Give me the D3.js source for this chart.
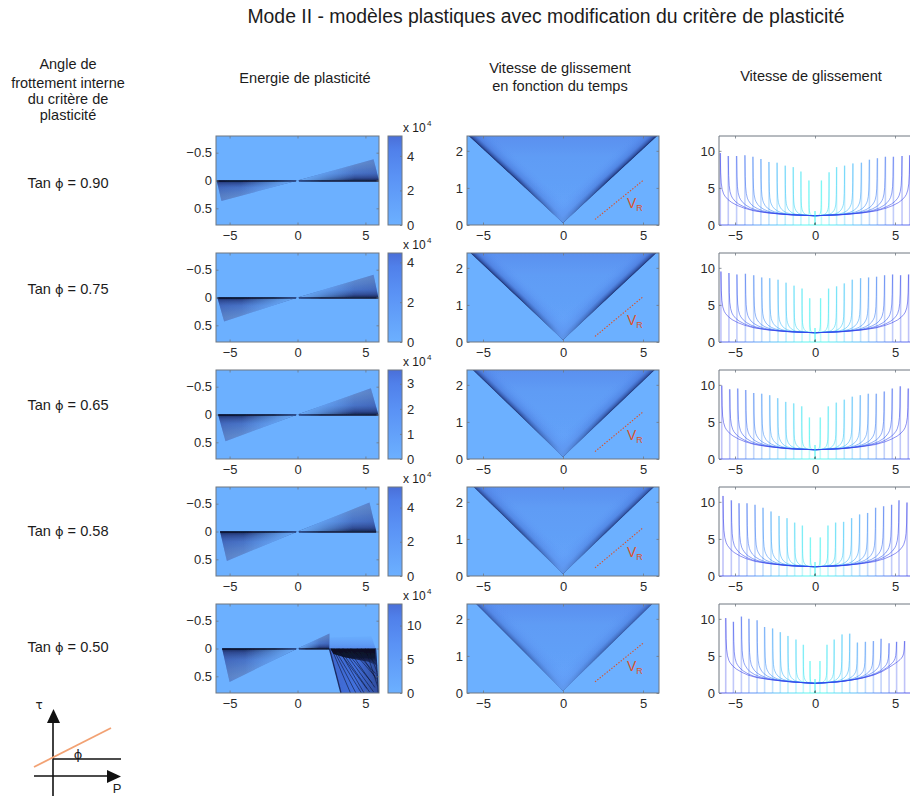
<!DOCTYPE html>
<html lang="fr"><head><meta charset="utf-8">
<script src="https://cdn.jsdelivr.net/npm/d3@7/dist/d3.min.js"></script>
<style>html,body{margin:0;padding:0;background:#fff;overflow:hidden}svg{display:block}
text{font-family:"Liberation Sans",Arial,sans-serif;fill:#1c1c1c}
.axis text{font-size:13px;fill:#2a2a2a;font-family:"Liberation Sans",Arial,sans-serif}
.axis line{stroke:#6f7780;stroke-width:.8}.axis path{stroke:none}</style></head><body>
<svg id="chart" width="910" height="797"></svg>
<script>
// ---------- text ----------
const chartTitle = "Mode II - modèles plastiques avec modification du critère de plasticité";
const leftHeader = ["Angle de","frottement interne","du critère de","plasticité"];
const tanPhi = ["0.90","0.75","0.65","0.58","0.50"];
// ---------- shared axis ranges ----------
const xRange = [-6,6], xTicks = [-5,0,5];
const energyY = [-0.8,0.8], energyYTicks = [-0.5,0,0.5];
const timeY = [0,2.4], timeYTicks = [0,1,2];
const rateY = [0,12], rateYTicks = [0,5,10];
// ---------- colour bars (units of 10^4) ----------
const barMax = [5.15,4.47,3.55,5.2,13.2];
const barTicks = [[0,2,4],[0,2,4],[0,1,2,3],[0,2,4],[0,5,10]];
// ---------- plastic energy wedges: [axis end x, outer end x, outer end y] ----------
const wedgeLeft  = [[-5.95,-5.6,0.37],[-5.9,-5.4,0.43],[-5.85,-5.3,0.48],[-5.7,-5.2,0.53],[-5.55,-5.0,0.6]];
const wedgeRight = [[6.0,5.6,-0.38],[5.95,5.6,-0.41],[5.95,5.4,-0.47],[5.8,5.3,-0.52],[2.35,2.35,-0.27]];
// last row: broken zone on the right
const brokenZone = [[2.35,0],[5.75,0],[5.95,0.8],[3.2,0.8]];
const brokenHaze = [[2.35,0],[2.4,-0.2],[5.45,-0.22],[5.75,0]];
const brokenCore = [[2.4,0],[5.75,0],[5.8,0.3],[5.2,0.24],[4.4,0.2],[3.5,0.16],[2.65,0.1]];
const brokenStreaks = [[2.5,0,3.9,0.8],[2.6,0,4.3,0.8],[2.7,0,4.7,0.8],[2.9,0,5.1,0.72],[3.0,0,4.9,0.8],[3.1,0,5.3,0.78],[3.3,0,5.6,0.78],[3.4,0,5.5,0.62],[3.7,0,5.7,0.7],[3.9,0,5.7,0.5],[4.0,0,5.75,0.45],[4.4,0,5.8,0.55],[4.7,0,5.85,0.3],[5.0,0,5.9,0.68],[5.2,0,5.85,0.42]];
// ---------- slip velocity vs time: edge of the V at the top of the plot ----------
const vLeftTop  = [-5.9,-5.8,-5.65,-5.6,-5.45];
const vRightTop = [5.9,5.85,5.75,5.7,5.6];
const vEdgeStrength = [1,0.95,0.9,0.85,0.6];
const vrStart = [2,0.15,2,0.15,2,0.2,2,0.22,2,0.3];
const vrEnd   = [5,1.2,5,1.22,5,1.27,5,1.3,5,1.34];
// ---------- slip velocity snapshots ----------
const rupLeft = [
 [-0.38,-0.88,-1.36,-1.86,-2.37,-2.88,-3.38,-3.88,-4.38,-4.9,-5.42,-5.92],
 [-0.33,-0.81,-1.31,-1.81,-2.31,-2.83,-3.33,-3.83,-4.35,-4.88,-5.38,-5.88],
 [-0.35,-0.83,-1.33,-1.83,-2.33,-2.83,-3.33,-3.83,-4.33,-4.83,-5.33,-5.83],
 [-0.29,-0.79,-1.27,-1.75,-2.25,-2.75,-3.25,-3.75,-4.25,-4.75,-5.23,-5.75],
 [-0.31,-0.73,-1.19,-1.69,-2.17,-2.65,-3.15,-3.62,-4.13,-4.6,-5.1,-5.58]];
const rupRight = [
 [0.4,0.88,1.35,1.85,2.37,2.9,3.4,3.9,4.4,4.9,5.44,5.92],
 [0.35,0.85,1.35,1.83,2.33,2.85,3.35,3.85,4.35,4.85,5.35,5.85],
 [0.33,0.83,1.33,1.83,2.33,2.83,3.33,3.83,4.33,4.83,5.33,5.83],
 [0.33,0.81,1.29,1.79,2.29,2.79,3.29,3.79,4.29,4.79,5.25,5.75],
 [0.31,0.75,1.2,1.69,2.17,2.65,3.15,3.65,4.13,4.63,5.1,5.6]];
const peakLeft = [
 [6.0,7.2,7.8,8.0,8.4,8.5,8.9,9.2,9.4,9.3,9.3,9.7],
 [5.9,7.2,7.6,8.0,8.4,8.6,8.7,9.0,9.2,9.1,9.3,9.5],
 [5.6,7.1,7.5,7.7,8.2,8.6,8.8,8.9,9.3,9.5,9.4,9.9],
 [5.2,6.8,7.2,7.8,8.1,8.7,9.2,9.6,9.8,9.8,10.2,10.8],
 [4.3,6.5,7.2,7.7,8.2,8.7,8.9,9.8,10.0,10.3,9.6,10.1]];
const peakRight = [
 [6.0,7.1,7.8,8.0,8.3,8.4,8.8,9.0,9.2,9.2,9.3,9.4],
 [5.9,7.2,7.5,7.9,8.4,8.6,8.7,8.8,9.0,9.1,9.0,9.1],
 [5.6,7.1,7.6,8.0,8.4,8.6,8.8,8.8,9.1,9.5,9.8,9.5],
 [5.2,6.8,7.2,7.3,7.8,8.3,8.5,9.2,9.4,9.6,10.2,9.9],
 [4.3,6.5,7.2,7.9,8.0,6.8,6.9,7.0,7.3,6.7,6.9,7.0]];
// floor of the curves against |x| = 0,1,...,6
const floorX = [0,1,2,3,4,5,6];
const floorLeft = [
 [1.25,1.3,1.4,1.55,1.8,2.2,2.7],[1.25,1.3,1.4,1.55,1.8,2.2,2.7],[1.25,1.3,1.4,1.6,1.85,2.3,2.8],
 [1.25,1.3,1.4,1.6,1.85,2.3,2.8],[1.3,1.4,1.55,1.75,2.0,2.5,3.0]];
const floorRight = [
 [1.25,1.3,1.4,1.55,1.8,2.2,2.7],[1.25,1.3,1.4,1.55,1.8,2.2,2.7],[1.25,1.3,1.4,1.6,1.85,2.3,2.8],
 [1.25,1.3,1.4,1.6,1.85,2.3,2.8],[1.3,1.4,1.6,1.95,2.5,3.6,4.6]];
// decay read behind the rupture front: distance (fraction of the half length) and height above the floor
const decayDist = [0,0.004,0.01,0.02,0.035,0.05,0.08,0.12,0.18,0.25,0.35,0.5,0.7,1];
const decayFrac = [1,0.62,0.43,0.31,0.23,0.19,0.14,0.1,0.065,0.04,0.02,0.01,0.003,0];

// ---------- layout ----------
const rowTop = [136,253,370,487,604], rowH = 89;
const colE = [216,379], colBar = [388,402], colV = [467,659], colR = [719,911];
const BG = "#6cb0ff";
const svg = d3.select("#chart"), defs = svg.append("defs");
const tickText = d => String(d).replace("-","\u2212");
let uid = 0;
function grad(x1,y1,x2,y2,stops){
  const id = "g"+(uid++);
  const g = defs.append("linearGradient").attr("id",id).attr("gradientUnits","userSpaceOnUse")
    .attr("x1",x1).attr("y1",y1).attr("x2",x2).attr("y2",y2);
  stops.forEach(s=>g.append("stop").attr("offset",s[0]).attr("stop-color",s[1]).attr("stop-opacity",s[2]));
  return "url(#"+id+")";
}
function clip(points){
  const id = "c"+(uid++);
  defs.append("clipPath").attr("id",id).append("polygon").attr("points",points.join(" "));
  return "url(#"+id+")";
}
const blur = (id,s)=>defs.append("filter").attr("id",id).attr("x","-5%").attr("y","-5%").attr("width","110%").attr("height","110%")
  .append("feGaussianBlur").attr("stdDeviation",s);
blur("b1",0.7); blur("b2",0.75);

function axes(g,x,y,yTicks,top,h,yPad){
  const l=x.range()[0], r=x.range()[1];
  g.append("rect").attr("x",l).attr("y",top).attr("width",r-l).attr("height",h)
    .attr("fill","none").attr("stroke","#6f7780").attr("stroke-width",1);
  g.append("g").attr("class","axis").attr("transform",`translate(0,${top+h})`)
    .call(d3.axisBottom(x).tickValues(xTicks).tickSize(-2.5).tickPadding(6).tickFormat(tickText));
  g.append("g").attr("class","axis").attr("transform",`translate(0,${top})`)
    .call(d3.axisTop(x).tickValues(xTicks).tickSize(-2.5).tickFormat(""));
  g.append("g").attr("class","axis").attr("transform",`translate(${l},0)`)
    .call(d3.axisLeft(y).tickValues(yTicks).tickSize(-2.5).tickPadding(yPad).tickFormat(tickText));
  g.append("g").attr("class","axis").attr("transform",`translate(${r},0)`)
    .call(d3.axisRight(y).tickValues(yTicks).tickSize(-2.5).tickFormat(""));
}

// ---------- energy panel ----------
function wedge(g,x,y,w){
  const T=[x(0),y(0)], B=[x(w[0]),y(0)], O=[x(w[1]),y(w[2])];
  const poly=[T,B,O].map(p=>p.join(","));
  g.append("polygon").attr("points",poly.join(" "))
   .attr("fill",grad(T[0],0,B[0],0,[[0,BG,1],[0.45,"#5f9cf5",1],[1,"#4672cc",1]]));
  g.append("polygon").attr("points",poly.join(" "))
   .attr("fill",grad(0,y(0),0,O[1],[[0,"#14204a",0.95],[0.12,"#24387a",0.75],[0.35,"#3c5cab",0.5],[0.8,"#6f8db5",0.42],[1,"#8aa3bd",0.2]]));
  g.append("polygon").attr("points",poly.join(" "))
   .attr("fill",grad(T[0],0,B[0],0,[[0,BG,1],[0.25,BG,0.7],[0.7,BG,0],[1,BG,0]]));
  g.append("line").attr("x1",x(w[0])).attr("x2",x(w[0]<0?-0.1:0.1)).attr("y1",y(0)+.4).attr("y2",y(0)+.4)
   .attr("stroke",grad(T[0],0,B[0],0,[[0,"#1a2c68",0.85],[0.3,"#0c1430",1],[1,"#0a1028",1]]))
   .attr("stroke-width",1.5);
}
function energy(g,i,top){
  const x=d3.scaleLinear().domain(xRange).range(colE);
  const y=d3.scaleLinear().domain([energyY[1],energyY[0]]).range([top+rowH,top]);
  const inner=g.append("g").attr("clip-path",clip([[colE[0],top],[colE[1],top],[colE[1],top+rowH],[colE[0],top+rowH]].map(p=>p.join(","))));
  inner.append("rect").attr("x",colE[0]).attr("y",top).attr("width",colE[1]-colE[0]).attr("height",rowH).attr("fill",BG);
  const f=inner.append("g").attr("filter","url(#b2)");
  wedge(f,x,y,wedgeLeft[i]);
  wedge(f,x,y,wedgeRight[i]);
  if(i===4){
    const pts=a=>a.map(p=>x(p[0])+","+y(p[1])).join(" ");
    f.append("polygon").attr("points",pts(brokenHaze))
      .attr("fill",grad(0,y(0),0,y(-0.22),[[0,"#4f80e6",0.7],[1,"#5f9cf5",0.2]]));
    f.append("polygon").attr("points",pts(brokenZone))
      .attr("fill",grad(x(2.6),0,x(5.9),0,[[0,"#3f68cf",1],[0.5,"#4270dc",1],[1,"#2f4c9e",1]]));
    f.selectAll("line.s").data(brokenStreaks).join("line").attr("class","s")
      .attr("x1",d=>x(d[0])).attr("y1",d=>y(d[1])).attr("x2",d=>x(d[2])).attr("y2",d=>y(d[3]))
      .attr("stroke","#0f1838").attr("stroke-width",1).attr("opacity",.6);
    f.append("polygon").attr("points",pts(brokenCore))
      .attr("fill",grad(0,y(0),0,y(0.3),[[0,"#060a1a",0.97],[0.55,"#0a1028",0.9],[1,"#1a2a62",0.55]]));
    f.append("line").attr("x1",x(2.35)).attr("y1",y(0)).attr("x2",x(3.2)).attr("y2",y(0.8)).attr("stroke","#1a2a62").attr("stroke-width",1.3);
    f.append("line").attr("x1",x(5.75)).attr("y1",y(0)).attr("x2",x(5.95)).attr("y2",y(0.8)).attr("stroke","#1a2a62").attr("stroke-width",1.3);
  }
  axes(g,x,y,energyYTicks,top,rowH,4);
  // colour bar
  const b=d3.scaleLinear().domain([0,barMax[i]]).range([top+rowH,top]);
  g.append("rect").attr("x",colBar[0]).attr("y",top).attr("width",colBar[1]-colBar[0]).attr("height",rowH)
    .attr("fill",grad(0,top+rowH,0,top,[[0,BG,1],[0.55,"#5a92f5",1],[0.85,"#5080ea",1],[1,"#4a6fd8",1]]))
    .attr("stroke","#6f7780").attr("stroke-width",1);
  g.append("g").attr("class","axis").attr("transform",`translate(${colBar[1]},0)`)
    .call(d3.axisRight(b).tickValues(barTicks[i]).tickSize(-2).tickPadding(5).tickFormat(d3.format("d")));
  g.append("text").attr("x",colBar[1]+1).attr("y",top-4).attr("font-size",12).text("x 10");
  g.append("text").attr("x",colBar[1]+25).attr("y",top-10).attr("font-size",8).text("4");
}

// ---------- time panel ----------
function timePanel(g,i,top){
  const x=d3.scaleLinear().domain(xRange).range(colV);
  const y=d3.scaleLinear().domain(timeY).range([top+rowH,top]);
  const A=[x(0),y(0.05)], L=[x(vLeftTop[i]),y(2.4)], R=[x(vRightTop[i]),y(2.4)];
  const inner=g.append("g").attr("clip-path",clip([[colV[0],top],[colV[1],top],[colV[1],top+rowH],[colV[0],top+rowH]].map(p=>p.join(","))));
  inner.append("rect").attr("x",colV[0]).attr("y",top).attr("width",colV[1]-colV[0]).attr("height",rowH).attr("fill",BG);
  const V=inner.append("g").attr("filter","url(#b1)").append("g").attr("clip-path",clip([A,L,R].map(p=>p.join(","))));
  const vPts=[A,L,R].map(p=>p.join(",")).join(" ");
  V.append("polygon").attr("points",vPts)
    .attr("fill",grad(0,A[1],0,L[1],[[0,"#6aaafe",1],[0.3,"#62a1f8",1],[0.75,"#5f9cf5",1],[1,"#5a90ef",1]]));
  const s=vEdgeStrength[i];
  const cx=(A[0]+L[0]+R[0])/3, cy=(A[1]+L[1]+R[1])/3;
  [L,R].forEach(E=>{
    const dx=E[0]-A[0], dy=E[1]-A[1], len=Math.hypot(dx,dy);
    let nx=-dy/len, ny=dx/len;
    const mx=(A[0]+E[0])/2, my=(A[1]+E[1])/2, w=18;
    if((cx-mx)*nx+(cy-my)*ny<0){nx=-nx;ny=-ny;}
    V.append("polygon").attr("points",vPts)
      .attr("fill",grad(mx,my,mx+nx*w,my+ny*w,[[0,"#14235a",0.95*s],[0.1,"#233c8c",0.75*s],[0.3,"#3f68cc",0.45*s],[0.65,"#4f80e6",0.18*s],[1,"#5b95f2",0]]));
  });
  V.append("polygon").attr("points",vPts)
    .attr("fill",grad(0,A[1],0,y(1.2),[[0,"#6aa9fd",0.85],[0.25,"#67a4fb",0.6],[1,"#5f9df6",0]]));
  axes(g,x,y,timeYTicks,top,rowH,4);
  g.append("line").attr("x1",x(vrStart[i*2])).attr("y1",y(vrStart[i*2+1])).attr("x2",x(vrEnd[i*2])).attr("y2",y(vrEnd[i*2+1]))
    .attr("stroke","#d9532c").attr("stroke-width",1.1).attr("stroke-dasharray","1.4 1.6");
  const lab=g.append("text").attr("x",x(4)).attr("y",y(vrStart[i*2+1]+0.3)).attr("font-size",14);
  lab.append("tspan").style("fill","#d9532c").text("V");
  lab.append("tspan").style("fill","#d9532c").attr("font-size",9).attr("dy",3).text("R");
}

// ---------- rate panel ----------
const timeColor = d3.scaleLinear().domain([0,0.3,0.55,1]).range(["#38f2ee","#3cc4f8","#3d8cf6","#3038e8"]);
function ratePanel(g,i,top){
  const x=d3.scaleLinear().domain(xRange).range(colR);
  const y=d3.scaleLinear().domain(rateY).range([top+rowH,top]);
  const fl=d3.scaleLinear().domain(floorX).range(floorLeft[i]);
  const fr=d3.scaleLinear().domain(floorX).range(floorRight[i]);
  const inner=g.append("g").attr("clip-path",clip([[colR[0],top],[colR[1],top],[colR[1],top+rowH+1],[colR[0],top+rowH+1]].map(p=>p.join(","))));
  const line=d3.line().x(d=>x(d[0])).y(d=>y(d[1]));
  const n=rupLeft[i].length;
  d3.range(n).forEach(k=>{
    const pl=rupLeft[i][k], pr=rupRight[i][k], hl=peakLeft[i][k], hr=peakRight[i][k];
    const c=timeColor(k/(n-1));
    const left=decayDist.map((d,j)=>{const xx=pl*(1-d), f=fl(-xx); return [xx,f+(hl-f)*decayFrac[j]];});
    const right=decayDist.map((d,j)=>{const xx=pr*(1-d), f=fr(xx); return [xx,f+(hr-f)*decayFrac[j]];}).reverse();
    inner.append("path").attr("d",line(left.concat(right))).attr("fill","none").attr("stroke",c)
      .attr("stroke-width",.9).attr("stroke-opacity",.62);
    [[pl,hl],[pr,hr]].forEach(([p,h])=>{
      inner.append("line").attr("x1",x(p)).attr("x2",x(p)).attr("y1",y(0)).attr("y2",y(h))
        .attr("stroke",c).attr("stroke-width",1.6).attr("stroke-opacity",.3);
    });
    // zero level beyond the rupture front, one stretch per snapshot
    const nl = k<n-1 ? rupLeft[i][k+1] : xRange[0], nr = k<n-1 ? rupRight[i][k+1] : xRange[1];
    [[nl,pl],[pr,nr]].forEach(seg=>{
      inner.append("path").attr("d",line([[seg[0],0],[seg[1],0]])).attr("stroke",c).attr("stroke-width",1.6)
        .attr("stroke-opacity",.5).attr("fill","none");
    });
    if(k===0) inner.append("path").attr("d",line([[pl,0],[pr,0]])).attr("stroke",c).attr("stroke-width",1.6).attr("stroke-opacity",.5);
  });
  inner.append("line").attr("x1",x(0)).attr("x2",x(0)).attr("y1",y(0)).attr("y2",y(1.9)).attr("stroke","#38f2ee").attr("stroke-opacity",.7).attr("stroke-width",1.4);
  inner.append("line").attr("x1",x(0)).attr("x2",x(0)).attr("y1",y(0)).attr("y2",y(0.3)).attr("stroke","#1c6b60").attr("stroke-width",1.2);
  g.append("path").attr("d",`M${colR[0]},${top+rowH}V${top}H${colR[1]}`).attr("fill","none").attr("stroke","#6f7780");
  g.append("g").attr("class","axis").attr("transform",`translate(0,${top+rowH})`)
    .call(d3.axisBottom(x).tickValues(xTicks).tickSize(-2.5).tickPadding(6).tickFormat(tickText));
  g.append("g").attr("class","axis").attr("transform",`translate(0,${top})`)
    .call(d3.axisTop(x).tickValues(xTicks).tickSize(-2.5).tickFormat(""));
  g.append("g").attr("class","axis").attr("transform",`translate(${colR[0]},0)`)
    .call(d3.axisLeft(y).tickValues(rateYTicks).tickSize(-2.5).tickPadding(4).tickFormat(tickText));
}

// ---------- build ----------
rowTop.forEach((top,i)=>{
  energy(svg.append("g"),i,top);
  timePanel(svg.append("g"),i,top);
  ratePanel(svg.append("g"),i,top);
});

// ---------- text ----------
const label=(x,y,s,t,anchor="middle")=>svg.append("text").attr("x",x).attr("y",y).attr("font-size",s).attr("text-anchor",anchor).text(t);
label(546,23,19.4,chartTitle);
leftHeader.forEach((t,i)=>label(68,[69,88,104,120][i],14.5,t));
label(305,83,14.6,"Energie de plasticité");
label(560,73,14.6,"Vitesse de glissement");
label(560,91,14.6,"en fonction du temps");
label(811,81,14.6,"Vitesse de glissement");
const tanY=[188,294,410,536,652];
tanPhi.forEach((v,i)=>{
  const t=svg.append("text").attr("x",68).attr("y",tanY[i]).attr("font-size",14.6).attr("text-anchor","middle");
  t.append("tspan").text("Tan ");
  t.append("tspan").style("font-family","DejaVu Sans").attr("font-size",13).text("\u03D5");
  t.append("tspan").text(" = "+v);
});

// ---------- small criterion sketch ----------
const sk=svg.append("g");
sk.append("line").attr("x1",53).attr("y1",796).attr("x2",53).attr("y2",720).attr("stroke","#111").attr("stroke-width",1.6);
sk.append("polygon").attr("points","47,723 60,723 53.5,709").attr("fill","#111");
sk.append("line").attr("x1",34).attr("y1",776).attr("x2",109).attr("y2",776).attr("stroke","#111").attr("stroke-width",1.6);
sk.append("polygon").attr("points","107,770 107,783 121,776.5").attr("fill","#111");
sk.append("line").attr("x1",53).attr("y1",759).attr("x2",121).attr("y2",759).attr("stroke","#111").attr("stroke-width",1.4);
sk.append("line").attr("x1",34).attr("y1",767).attr("x2",111).attr("y2",728).attr("stroke","#f2a274").attr("stroke-width",1.8);
sk.append("text").attr("x",78).attr("y",759).attr("text-anchor","middle").attr("font-size",13).style("font-family","DejaVu Sans").text("\u03D5");
sk.append("text").attr("x",39).attr("y",709).attr("text-anchor","middle").attr("font-size",12).style("font-family","DejaVu Sans").text("\u03C4");
sk.append("text").attr("x",117).attr("y",793).attr("text-anchor","middle").attr("font-size",13).text("P");
</script></body></html>
